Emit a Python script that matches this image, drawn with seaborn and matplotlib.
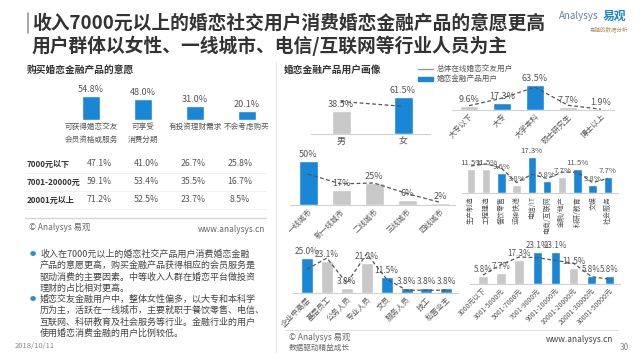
import matplotlib
matplotlib.use("Agg")
import matplotlib.pyplot as plt
from matplotlib.lines import Line2D
import seaborn as sns
import numpy as np

sns.set_style("white")
plt.rcParams['font.family'] = ['Noto Sans CJK SC', 'DejaVu Sans']

W, H = 640, 360
BLUE = '#1a86d6'
GRAY = '#c8c8c8'
LINE = '#555555'
TXT = '#555555'

# ---------------- data ----------------
title1 = '收入7000元以上的婚恋社交用户消费婚恋金融产品的意愿更高'
title2 = '用户群体以女性、一线城市、电信/互联网等行业人员为主'

will_cats = ['可获得婚恋交友\n会员资格或服务', '可享受\n消费分期', '有投资理财需求', '不会考虑购买']
will_vals = [54.8, 48.0, 31.0, 20.1]

table_rows = ['7000元以下', '7001-20000元', '20001元以上']
table_low = [47.1, 41.0, 26.7, 25.8]
table_mid = [59.1, 53.4, 35.5, 16.7]
table_high = [71.2, 52.5, 23.7, 8.5]

gender_cats = ['男', '女']
gender_vals = [38.5, 61.5]
gender_line = [54, 46]
gender_blue = [False, True]

edu_cats = ['大专以下', '大专', '大学本科', '硕士研究生', '博士以上']
edu_vals = [9.6, 17.3, 63.5, 7.7, 1.9]
edu_line = [11, 30, 58, 12, 2]
edu_blue = [False, True, True, False, False]

city_cats = ['一线城市', '新一线城市', '二线城市', '三线城市', '四线城市']
city_vals = [50, 17, 25, 6, 2]
city_line = [35, 24, 25, 13, 3]
city_blue = [True, False, False, False, False]

ind_cats = ['生产制造', '工程建造', '餐饮零售', '运输快递', '电信/IT',
            '电商/互联网', '金融/地产', '科研/教育', '文娱', '社会服务']
ind_vals = [11.5, 11.5, 9.6, 3.8, 17.3, 5.8, 7.7, 11.5, 3.8, 7.7]
ind_line = [13, 14, 12, 5, 9, 7, 10, 10, 5, 7]
ind_blue = [False, False, True, False, True, True, False, True, True, True]

job_cats = ['企业中高层', '基层员工', '公务人员', '专业人员', '文员', '服务人员', '技工', '私营业主']
job_vals = [25.0, 23.1, 3.8, 21.2, 11.5, 3.8, 3.8, 3.8]
job_line = [17, 25, 7, 28, 10, 2, 2, 2]
job_blue = [True, False, False, False, True, True, True, True]

inc_cats = ['3000元以下', '3001-5000元', '5001-7000元', '7001-9000元', '9001-10000元',
            '10001-20000元', '20001-30000元', '30001-50000元']
inc_vals = [5.8, 7.7, 17.3, 23.1, 23.1, 11.5, 5.8, 5.8]
inc_line = [6.5, 14, 19.5, 19, 17, 15, 5.3, 3.4]
inc_blue = [False, False, False, True, True, False, True, True]

bullet1 = ['收入在7000元以上的婚恋社交产品用户消费婚恋金融',
           '产品的意愿更高，购买金融产品获得相应的会员服务是',
           '驱动消费的主要因素。中等收入人群在婚恋平台做投资',
           '理财的占比相对更高。']
bullet2 = ['婚恋交友金融用户中，整体女性偏多，以大专和本科学',
           '历为主，活跃在一线城市，主要就职于餐饮零售、电信、',
           '互联网、科研教育及社会服务等行业。金融行业的用户',
           '使用婚恋消费金融的用户比例较低。']

fig = plt.figure(figsize=(6.4, 3.6), dpi=100)


def ftext(x, y, s, **kw):
    kw.setdefault('va', 'center')
    return fig.text(x / W, 1 - y / H, s, **kw)


def fline(x0, y0, x1, y1, **kw):
    fig.add_artist(Line2D([x0 / W, x1 / W], [1 - y0 / H, 1 - y1 / H], transform=fig.transFigure, **kw))


def bar_panel(cats, vals, line, blue, c0, step, bw, base, ppu, xl, xr, top,
              rot=45, fs=5.5, lab_fs=6.5, show_axis=True):
    ax = fig.add_axes([xl / W, 1 - base / H, (xr - xl) / W, (base - top) / H])
    ax.patch.set_alpha(0)
    n = len(cats)
    pal = {c: (BLUE if b else GRAY) for c, b in zip(cats, blue)}
    sns.barplot(x=cats, y=vals, hue=cats, palette=pal, legend=False,
                width=bw / step, ax=ax, saturation=1)
    if line is not None:
        sns.lineplot(x=np.arange(n), y=line, ax=ax, color=LINE, lw=0.9, linestyle=(0, (3, 2)))
    for i, v in enumerate(vals):
        ax.annotate(f'{v}%', (i, v), xytext=(0, 1.5), textcoords='offset points',
                    ha='center', va='bottom', fontsize=lab_fs, color=TXT)
    ax.set_xlim((xl - c0) / step, (xr - c0) / step)
    ax.set_ylim(0, (base - top) / ppu)
    ax.set_ylabel('')
    ax.set_yticks([])
    ax.set_xticks(range(n))
    if rot == 45:
        ax.set_xticklabels(cats, rotation=45, ha='right', rotation_mode='anchor', fontsize=fs, color=TXT)
    elif rot == 90:
        ax.set_xticklabels(cats, rotation=90, ha='right', va='center', rotation_mode='anchor', fontsize=fs, color=TXT)
    else:
        ax.set_xticklabels(cats, fontsize=fs, color=TXT, linespacing=1.8)
    ax.tick_params(axis='x', length=0, pad=2)
    for s in ['top', 'right', 'left']:
        ax.spines[s].set_visible(False)
    ax.spines['bottom'].set_visible(show_axis)
    ax.spines['bottom'].set_color('#d0d0d0')
    ax.spines['bottom'].set_linewidth(0.8)
    return ax


# ---------------- title ----------------
fline(28, 13, 28, 33, color='#999999', lw=1.2)
ftext(32, 23, title1, fontsize=13.5, fontweight='bold', color='#333333')
ftext(32, 46, title2, fontsize=13.5, fontweight='bold', color='#333333')
ftext(599, 16, 'Analysys', fontsize=7, style='italic', color='#6a7f99', ha='right')
ftext(603, 16, '易观', fontsize=8.5, fontweight='bold', color=BLUE)
ftext(590, 29, '易观的数据分析', fontsize=4, color='#b09060')

# ---------------- left panel ----------------
ftext(27, 70, '购买婚恋金融产品的意愿', fontsize=7, fontweight='bold', color='#333333')
bar_panel(will_cats, will_vals, None, [True] * 4, 91, 52, 18, 120, 24 / 54.8,
          62, 272, 78, rot=0, fs=5.5, lab_fs=6.5, show_axis=False)

col_x = [99, 146, 193, 240]
for row_y, name, vals in zip([164, 182, 200], table_rows, [table_low, table_mid, table_high]):
    ftext(27, row_y, name, fontsize=5.8, fontweight='bold', color='#333333')
    for x, v in zip(col_x, vals):
        ftext(x, row_y, f'{v}%', fontsize=6.3, color=TXT, ha='center')
for y in [173, 191, 209]:
    fline(25, y, 266, y, color='#eeeeee', lw=0.6)
fline(25, 218, 266, 218, color='#d5d5d5', lw=1.0)
ftext(29, 228, '© Analysys 易观', fontsize=6, color='#666666')
ftext(265, 229, 'www.analysys.cn', fontsize=6, color='#666666', ha='right')

for block, y0 in [(bullet1, 254), (bullet2, 299)]:
    ftext(33, y0, '●', fontsize=4.5, color='#2a8fd0', ha='center')
    for k, s in enumerate(block):
        ftext(40, y0 + k * 11.5, s, fontsize=6.5, color='#444444')
ftext(15, 346, '2018/10/11', fontsize=5.5, color='#888888')

fline(276, 62, 276, 352, color='#e6e6e6', lw=0.8)

# ---------------- right panel ----------------
ftext(284, 70, '婚恋金融产品用户画像', fontsize=7, fontweight='bold', color='#333333')
fline(418, 69, 433, 69, color='#999999', lw=1.0)
ftext(437, 69, '总体在线婚恋交友用户', fontsize=5.5, color=TXT)
fig.add_artist(plt.Rectangle((418 / W, 1 - 81 / H), 15 / W, 4 / H, transform=fig.transFigure, color=BLUE))
ftext(437, 79, '婚恋金融产品用户', fontsize=5.5, color=TXT)

bar_panel(gender_cats, gender_vals, gender_line, gender_blue, 341, 62, 19, 134, 37 / 61.5,
          311, 430, 88, rot=0, fs=6.5, lab_fs=6.5)
bar_panel(edu_cats, edu_vals, edu_line, edu_blue, 469, 33, 18, 110, 25 / 63.5,
          452, 614, 76, rot=45, fs=5.5, lab_fs=6.5)
bar_panel(city_cats, city_vals, city_line, city_blue, 308, 33, 19, 205, 44 / 50,
          290, 455, 148, rot=45, fs=5.5, lab_fs=6.5)
bar_panel(ind_cats, ind_vals, ind_line, ind_blue, 471, 15.2, 8.5, 193, 36 / 17.3,
          462, 618, 148, rot=90, fs=5, lab_fs=5.6)
bar_panel(job_cats, job_vals, job_line, job_blue, 307, 19.9, 12, 293, 35 / 25,
          293, 458, 245, rot=45, fs=5.5, lab_fs=6)
bar_panel(inc_cats, inc_vals, inc_line, inc_blue, 483, 18.1, 9.5, 284, 32 / 23.1,
          470, 620, 240, rot=45, fs=5, lab_fs=5.8)

fline(285, 330, 618, 330, color='#e0e0e0', lw=0.8)
ftext(289, 338, '© Analysys 易观', fontsize=6, color='#666666')
ftext(289, 348, '数据驱动精益成长', fontsize=5.5, color='#666666')
ftext(613, 339, 'www.analysys.cn', fontsize=6, color='#444444', ha='right')
ftext(620, 348, '30', fontsize=6, color='#888888')

fig.savefig('out.png', dpi=100)
